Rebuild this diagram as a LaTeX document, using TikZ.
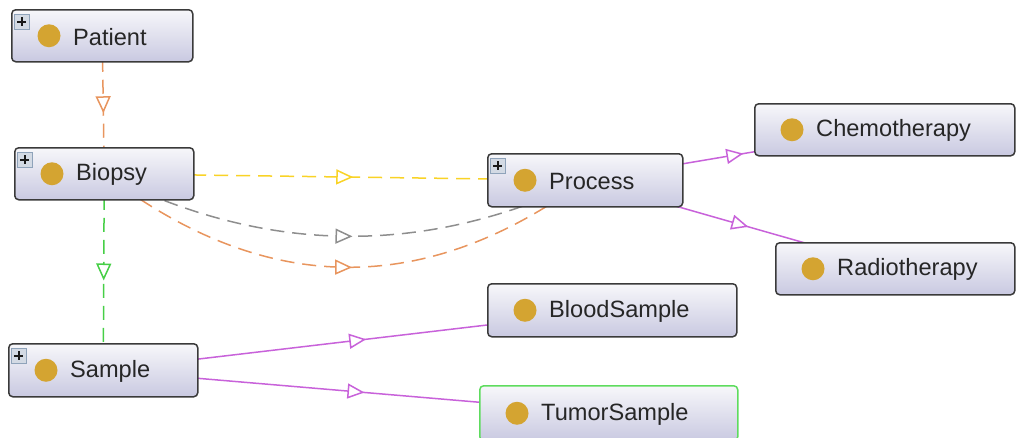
\documentclass[tikz,border=0pt]{standalone}
\usepackage{fontspec}
\newfontfamily\lblfont{Liberation Sans}
\usetikzlibrary{calc,arrows.meta,decorations.markings}
\pgfdeclarelayer{bg}
\pgfsetlayers{bg,main}

\definecolor{boxtop}{HTML}{F7F7FA}
\definecolor{boxbot}{HTML}{C9C9E1}
\definecolor{boxline}{HTML}{3A3A3A}
\definecolor{dotgold}{HTML}{D4A431}
\definecolor{txt}{HTML}{262626}
\definecolor{eorange}{HTML}{E8955E}
\definecolor{eyellow}{HTML}{F9D326}
\definecolor{egrey}{HTML}{8E8E8E}
\definecolor{egreen}{HTML}{46CF46}
\definecolor{epurple}{HTML}{C862DA}
\definecolor{selgreen}{HTML}{5EDC5E}
\definecolor{iconfill}{HTML}{D3DAE4}
\definecolor{iconline}{HTML}{8FA3BA}

\tikzset{
  clsbox/.style={rectangle, rounded corners=4pt, draw=boxline, line width=1.5pt,
    top color=boxtop, bottom color=boxbot, inner sep=0pt},
  selbox/.style={draw=selgreen},
  clslabel/.style={inner sep=0pt, text=txt, font=\lblfont\fontsize{23.6}{28}\selectfont},
  plusbox/.style={rectangle, draw=iconline, line width=0.9pt, fill=iconfill,
    minimum width=15pt, minimum height=15pt, inner sep=0pt},
  edge/.style={line width=1.5pt},
  dashedge/.style={edge, dash pattern=on 14pt off 8pt},
  midtri/.style={postaction={decorate}, decoration={markings,
    mark=at position 0.5 with {\arrow[xshift=8.5pt]{Triangle[length=17pt,width=15pt,fill=white,color=#1,line width=1.5pt]}}}}
}

% one class box: name, left, top, right, bottom, label, extra style
\newcommand{\owlbox}[7]{%
  \node[clsbox,#7,anchor=north west,minimum width={#4-#2},minimum height={#5-#3}] (#1) at (#2,#3) {};
  \fill[dotgold] ($(#1.west)+(38,0)$) circle[radius=11.5pt];
  \node[clslabel,anchor=west] (#1-lbl) at ($(#1.west)+(62,1)$) {#6};
}
% expand icon in the upper left corner of a box
\newcommand{\expandicon}[1]{%
  \node[plusbox,anchor=north west] (#1-plus) at ($(#1.north west)+(3,5)$) {};
  \draw[line width=2.4pt,black!90] ($(#1-plus.center)+(-4.5,0)$) -- ($(#1-plus.center)+(4.5,0)$)
    ($(#1-plus.center)+(0,-4.5)$) -- ($(#1-plus.center)+(0,4.5)$);
}

\begin{document}
\begin{tikzpicture}[x=1pt,y=-1pt]
\useasboundingbox (0,0) rectangle (1016,437);
\clip (0,0) rectangle (1016,437);

\owlbox{pat}{11}{9}{192}{61}{Patient}{}
\owlbox{bio}{14}{147}{193}{199}{Biopsy}{}
\owlbox{pro}{487}{153}{682}{206}{Process}{}
\owlbox{che}{754}{103}{1014}{155}{Chemotherapy}{}
\owlbox{rad}{775}{242}{1014}{294}{Radiotherapy}{}
\owlbox{blo}{487}{283}{736}{336}{BloodSample}{}
\owlbox{tum}{479}{385}{737}{440}{TumorSample}{selbox}
\owlbox{sam}{8}{343}{197}{396}{Sample}{}

\expandicon{pat}
\expandicon{bio}
\expandicon{pro}
\expandicon{sam}

\coordinate (gctl) at (344,295.5);
\coordinate (octl) at (344,357.5);

\begin{pgfonlayer}{bg}
  \draw[dashedge,eorange,midtri=eorange] (pat.center) -- (bio.center);
  \draw[dashedge,egreen,midtri=egreen] (bio.center) -- (sam.center);
  \draw[dashedge,eyellow,midtri=eyellow] (bio.center) -- (pro.center);
  \draw[dashedge,egrey,midtri=egrey] (bio.center)
    .. controls ($(bio.center)!0.6667!(gctl)$) and ($(pro.center)!0.6667!(gctl)$) .. (pro.center);
  \draw[dashedge,eorange,midtri=eorange] (bio.center)
    .. controls ($(bio.center)!0.6667!(octl)$) and ($(pro.center)!0.6667!(octl)$) .. (pro.center);
  \draw[edge,epurple,midtri=epurple] (pro.center) -- (che.center);
  \draw[edge,epurple,midtri=epurple] (pro.center) -- (rad.center);
  \draw[edge,epurple,midtri=epurple] (sam.center) -- (blo.center);
  \draw[edge,epurple,midtri=epurple] (sam.center) -- (tum.center);
\end{pgfonlayer}
\end{tikzpicture}
\end{document}
